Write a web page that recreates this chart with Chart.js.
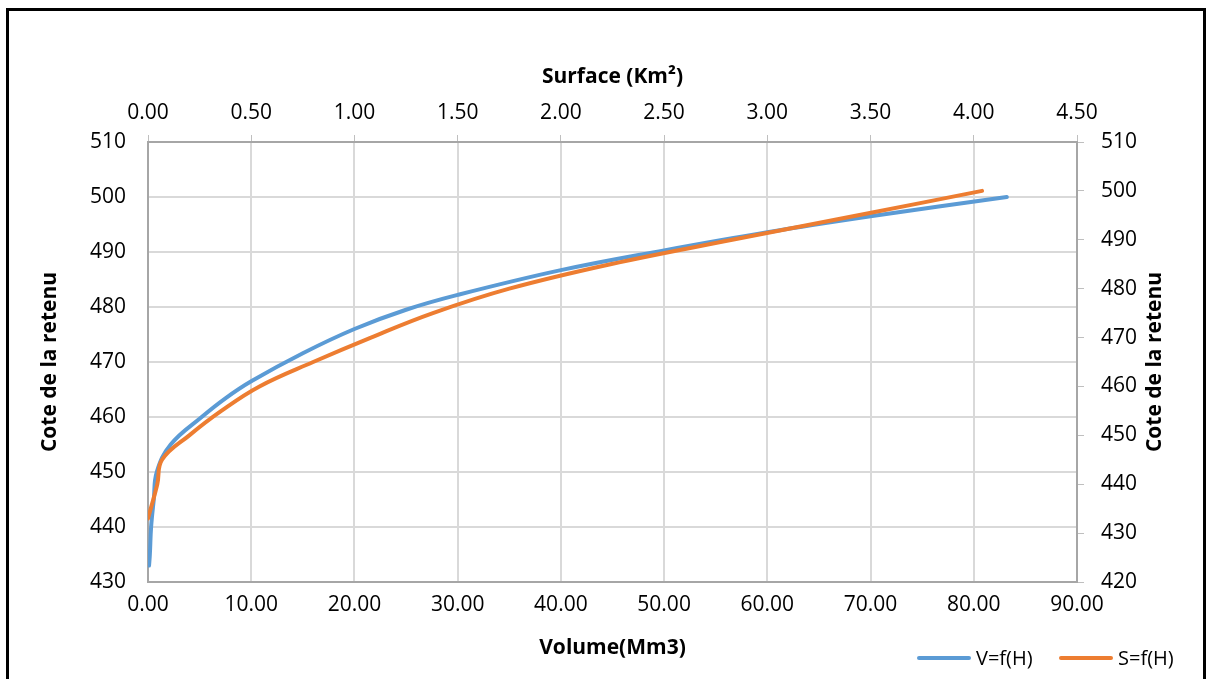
<!DOCTYPE html>
<html lang="fr">
<head>
<meta charset="utf-8">
<title>Courbes hauteur-volume et hauteur-surface</title>
<script src="https://cdn.jsdelivr.net/npm/chart.js@4.4.1/dist/chart.umd.min.js"></script>
<style>
  html, body {
    margin: 0;
    padding: 0;
    background: #ffffff;
    overflow: hidden;
  }
  #frame {
    position: absolute;
    left: 6px;
    top: 8px;
    width: 1194px;
    height: 700px;
    border: 3px solid #000000;
    box-sizing: content-box;
    pointer-events: none;
  }
  #chart-wrap {
    position: absolute;
    left: 0;
    top: 0;
    width: 1208px;
    height: 679px;
  }
  .legend {
    position: absolute;
    top: 644px;
    display: flex;
    align-items: center;
    font-family: "Open Sans", sans-serif;
    font-size: 20px;
    color: #000000;
  }
  .legend .swatch {
    width: 54px;
    height: 4px;
    border-radius: 2px;
    margin-right: 5px;
  }
</style>
</head>
<body>
<div id="chart-wrap">
  <canvas id="courbes" width="1208" height="679"></canvas>
</div>
<div id="frame"></div>
<div id="legend"></div>

<script>
// Volume (Mm3) en fonction de la cote
const coteVolume = [433, 435, 440, 445, 450, 455, 460, 463.4, 466.5, 471.6, 476, 479.5, 482.2, 486.7, 490.3, 493.6, 496.5, 500];
const volume = [0.1, 0.18, 0.3, 0.56, 0.85, 2.2, 5.2, 7.5, 10, 15, 20, 25, 30, 40, 50, 60, 70, 83.2];

// Surface (Km²) en fonction de la cote
const coteSurface = [433, 440, 445, 450, 455, 460, 465, 470, 475, 480, 485, 490, 495, 500];
const surface = [0.0, 0.045, 0.068, 0.2, 0.355, 0.54, 0.8, 1.08, 1.38, 1.75, 2.24, 2.83, 3.44, 4.04];

const volumeTicks = [0, 10, 20, 30, 40, 50, 60, 70, 80, 90];
const surfaceTicks = [0, 0.5, 1, 1.5, 2, 2.5, 3, 3.5, 4, 4.5];
const coteTicksLeft = [430, 440, 450, 460, 470, 480, 490, 500, 510];
const coteTicksRight = [420, 430, 440, 450, 460, 470, 480, 490, 500, 510];

const BLUE = "#5b9bd5";
const ORANGE = "#ed7d31";
const GRID = "#d9d9d9";
const AXIS_LINE = "#a6a6a6";
const FONT = "'Open Sans', sans-serif";

function toPoints(xs, ys) {
  return xs.map((x, i) => ({ x, y: ys[i] }));
}

function fixedSize(size) {
  return (scale) => {
    if (scale.isHorizontal()) {
      scale.height = size;
    } else {
      scale.width = size;
    }
  };
}

function fixedTicks(values) {
  return (scale) => {
    scale.ticks = values.map((value) => ({ value }));
  };
}

// Excel draws the right-hand title reading upwards, Chart.js would turn it the other way
const rightTitlePlugin = {
  id: "rightTitle",
  afterDraw(chart, args, opts) {
    const { ctx, chartArea } = chart;
    ctx.save();
    ctx.translate(opts.x, (chartArea.top + chartArea.bottom) / 2);
    ctx.rotate(-Math.PI / 2);
    ctx.font = `bold 21px ${FONT}`;
    ctx.fillStyle = "#000000";
    ctx.textAlign = "center";
    ctx.textBaseline = "middle";
    ctx.fillText(opts.text, 0, 0);
    ctx.restore();
  },
};

const datasets = [
  {
    label: "V=f(H)",
    data: toPoints(volume, coteVolume),
    xAxisID: "x",
    yAxisID: "y",
    borderColor: BLUE,
    backgroundColor: BLUE,
    borderWidth: 4,
    borderCapStyle: "round",
    borderJoinStyle: "round",
    showLine: true,
    pointRadius: 0,
    tension: 0.4,
    order: 2,
  },
  {
    label: "S=f(H)",
    data: toPoints(surface, coteSurface),
    xAxisID: "x2",
    yAxisID: "y2",
    borderColor: ORANGE,
    backgroundColor: ORANGE,
    borderWidth: 4,
    borderCapStyle: "round",
    borderJoinStyle: "round",
    showLine: true,
    pointRadius: 0,
    tension: 0.4,
    order: 1,
  },
];

const tickFont = { family: FONT, size: 21 };
const titleFont = { family: FONT, size: 21, weight: "bold" };

new Chart(document.getElementById("courbes"), {
  type: "scatter",
  data: { datasets },
  plugins: [rightTitlePlugin],
  options: {
    responsive: false,
    animation: false,
    layout: { padding: 0 },
    scales: {
      x: {
        type: "linear",
        position: "bottom",
        min: 0,
        max: 90,
        afterFit: fixedSize(97),
        afterBuildTicks: fixedTicks(volumeTicks),
        grid: { color: GRID, lineWidth: 2, drawTicks: false },
        border: { color: AXIS_LINE, width: 2 },
        ticks: {
          color: "#000000",
          font: tickFont,
          padding: 10,
          maxRotation: 0,
          autoSkip: false,
          callback: (value) => Number(value).toFixed(2),
        },
        title: {
          display: true,
          text: "Volume(Mm3)",
          color: "#000000",
          font: titleFont,
          padding: { top: 0, bottom: 18 },
        },
      },
      x2: {
        type: "linear",
        position: "top",
        min: 0,
        max: 4.5,
        afterFit: fixedSize(142),
        afterBuildTicks: fixedTicks(surfaceTicks),
        grid: {
          drawOnChartArea: false,
          drawTicks: true,
          tickLength: 7,
          tickColor: "#bfbfbf",
          lineWidth: 1,
        },
        border: { color: AXIS_LINE, width: 2 },
        ticks: {
          color: "#000000",
          font: tickFont,
          padding: 9,
          maxRotation: 0,
          autoSkip: false,
          callback: (value) => Number(value).toFixed(2),
        },
        title: {
          display: true,
          text: "Surface (Km²)",
          color: "#000000",
          font: titleFont,
          padding: { top: 64, bottom: 0 },
        },
      },
      y: {
        type: "linear",
        position: "left",
        min: 430,
        max: 510,
        afterFit: fixedSize(148),
        afterBuildTicks: fixedTicks(coteTicksLeft),
        grid: { color: GRID, lineWidth: 2, drawTicks: false },
        border: { color: AXIS_LINE, width: 2 },
        ticks: {
          color: "#000000",
          font: tickFont,
          padding: 22,
          autoSkip: false,
        },
        title: {
          display: true,
          text: "Cote de la retenu",
          color: "#000000",
          font: titleFont,
          padding: { top: 37, bottom: 0 },
        },
      },
      y2: {
        type: "linear",
        position: "right",
        min: 420,
        max: 510,
        afterFit: fixedSize(131),
        afterBuildTicks: fixedTicks(coteTicksRight),
        grid: {
          drawOnChartArea: false,
          drawTicks: true,
          tickLength: 7,
          tickColor: "#bfbfbf",
          lineWidth: 1,
        },
        border: { color: AXIS_LINE, width: 2 },
        ticks: {
          color: "#000000",
          font: tickFont,
          padding: 17,
          autoSkip: false,
        },
      },
    },
    plugins: {
      legend: { display: false },
      tooltip: { enabled: false },
      rightTitle: { text: "Cote de la retenu", x: 1155 },
    },
  },
});

// Legend drawn beneath the plot, bottom right
const legendPositions = [917, 1059];
const legendRoot = document.getElementById("legend");
datasets.forEach((dataset, i) => {
  const item = document.createElement("div");
  item.className = "legend";
  item.style.left = `${legendPositions[i]}px`;
  const swatch = document.createElement("span");
  swatch.className = "swatch";
  swatch.style.background = dataset.borderColor;
  const label = document.createElement("span");
  label.textContent = dataset.label;
  item.appendChild(swatch);
  item.appendChild(label);
  legendRoot.appendChild(item);
});
</script>
</body>
</html>
